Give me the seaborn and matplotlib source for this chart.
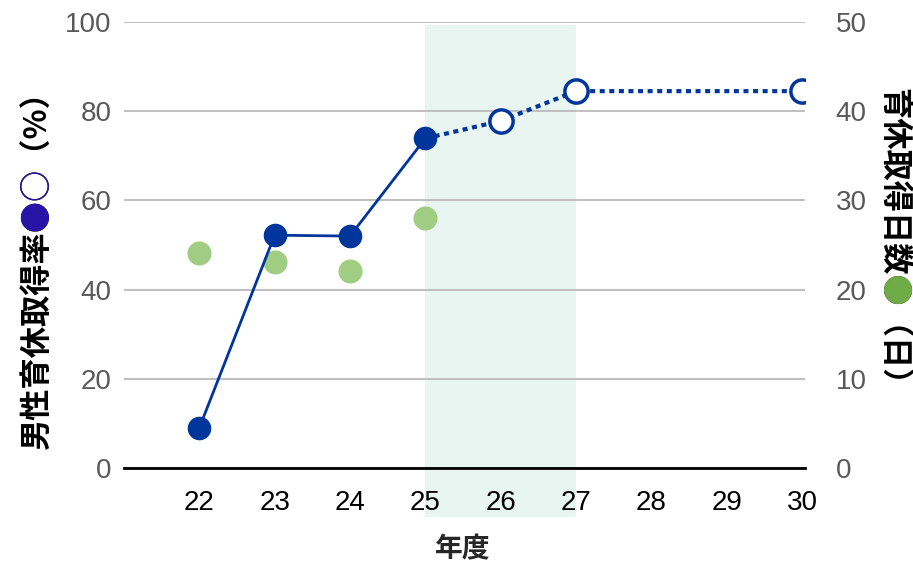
import matplotlib
matplotlib.use("Agg")
import matplotlib.pyplot as plt
import seaborn as sns
from matplotlib.transforms import Bbox

# ---- data ----
years_actual = [22, 23, 24, 25]
rate_actual = [9.0, 52.2, 52.0, 73.9]
years_target_line = [25, 26, 27, 30]
rate_target_line = [73.9, 77.8, 84.5, 84.5]
years_open = [26, 27, 30]
rate_open = [77.8, 84.5, 84.5]
years_days = [22, 23, 24, 25]
days = [24.1, 23.1, 22.1, 28.0]
xticks = [22, 23, 24, 25, 26, 27, 28, 29, 30]
left_ticks = [0, 20, 40, 60, 80, 100]
right_ticks = [0, 10, 20, 30, 40, 50]
shade_span = (25, 27)

BLUE = "#00369c"
GREEN = "#a0cd82"
SHADE = "#e8f5f0"
GRID = "#c0c0c0"
TICKGRAY = "#595959"

sns.set_style("white")
plt.rcParams["font.family"] = ["Liberation Sans", "Noto Sans CJK JP", "DejaVu Sans"]
CJK = "Noto Sans CJK JP"

W, H = 913, 567
fig = plt.figure(figsize=(W / 100, H / 100), dpi=100)
ax = fig.add_axes([124 / W, (H - 468) / H, (805 - 124) / W, (468 - 22) / H])
ax2 = ax.twinx()
ax2.set_zorder(1)
ax.set_zorder(2)
ax.patch.set_visible(False)

ax.set_xlim(21.0, 30.04)
ax.set_ylim(0, 100)
ax2.set_ylim(0, 50)

# shading and grid on the lower axes
ax2.axvspan(shade_span[0], shade_span[1], ymin=-0.11, ymax=0.993, color=SHADE,
            lw=0, clip_on=False, zorder=0)
ax2.set_yticks(right_ticks)
ax2.grid(axis="y", color=GRID, lw=1.5)
ax2.grid(axis="x", visible=False)
ax.grid(False)

# green points (days)
sns.scatterplot(x=years_days, y=days, ax=ax2, color=GREEN, s=300, linewidth=0,
                zorder=3, legend=False)

# blue line (rate)
sns.lineplot(x=years_actual, y=rate_actual, ax=ax, color=BLUE, lw=2, zorder=3,
             marker="o", markersize=17, markeredgewidth=0, legend=False)
sns.lineplot(x=years_target_line, y=rate_target_line, ax=ax, color=BLUE, lw=3,
             linestyle=(0, (1.2, 1.1)), zorder=2, legend=False)
sns.scatterplot(x=years_open, y=rate_open, ax=ax, color="white", edgecolor=BLUE,
                s=280, linewidth=2.5, zorder=4, legend=False)

ax.set_xticks(xticks)
ax.set_xticklabels([str(v) for v in xticks])
ax.set_yticks(left_ticks)
ax.set_yticklabels([str(v) for v in left_ticks])
ax2.set_yticklabels([str(v) for v in right_ticks])
ax.tick_params(axis="x", length=0, labelsize=20, labelcolor="black", pad=16)
ax.tick_params(axis="y", length=0, labelsize=20, labelcolor=TICKGRAY, pad=9)
ax2.tick_params(axis="y", length=0, labelsize=20, labelcolor=TICKGRAY, pad=22)
ax.set_xlabel("")
ax.set_ylabel("")
ax2.set_ylabel("")

for a in (ax, ax2):
    for s in ("top", "left", "right", "bottom"):
        a.spines[s].set_visible(False)
ax.spines["bottom"].set_visible(True)
ax.spines["bottom"].set_color("black")
ax.spines["bottom"].set_linewidth(2)
ax.spines["bottom"].set_zorder(5)

fig.text(463 / W, (H - 549) / H, "年度", family=CJK, fontsize=20, fontweight="bold",
         ha="center", va="center")

fig.canvas.draw()
renderer = fig.canvas.get_renderer()

LABEL_FS = 22.5


def colored_label(prefix, colored, suffix, color, base_x_px, start_px, rotation):
    kw = dict(rotation=rotation, rotation_mode="anchor", ha="left", va="baseline",
              family=CJK, fontsize=LABEL_FS, fontweight="bold")
    full = prefix + colored + suffix
    pos = (base_x_px / W, start_px / H)
    # measure where the coloured part starts/ends along the reading direction
    m1 = fig.text(*pos, prefix, **kw)
    m2 = fig.text(*pos, prefix + colored, **kw)
    b1 = m1.get_window_extent(renderer)
    b2 = m2.get_window_extent(renderer)
    m1.remove()
    m2.remove()
    fig.text(*pos, full, color="black", **kw)
    t = fig.text(*pos, full, color=color, **kw)
    if rotation == 90:
        lo, hi = b1.y1, b2.y1
    else:
        lo, hi = b2.y0, b1.y0
    t.set_clip_on(True)
    t.set_clip_box(Bbox([[0, lo], [W, hi]]))


# left label reads bottom -> top
colored_label("男性育休取得率", "●○", "（%）", "#2a14a8", 47, H - 450, 90)
# right label reads top -> bottom
colored_label("育休取得日数", "●", "（日）", "#70ad47", 883, H - 88, 270)

fig.savefig("out.png", dpi=100)
